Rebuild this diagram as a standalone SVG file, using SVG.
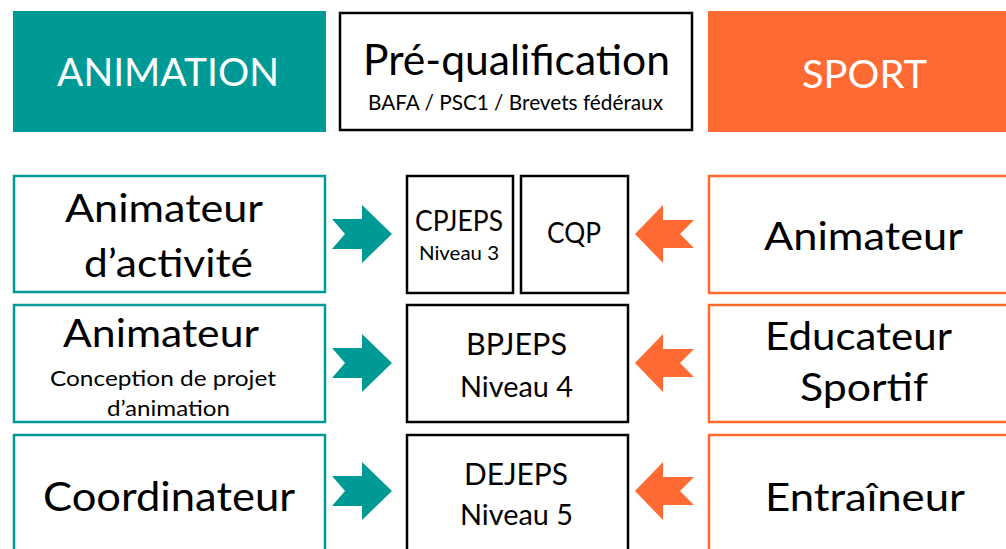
<svg xmlns="http://www.w3.org/2000/svg" xmlns:xlink="http://www.w3.org/1999/xlink" width="1006" height="549" viewBox="0 0 1006 549">
<style>
text{font-family:Lato,"Open Sans","Liberation Sans",sans-serif;fill:#000}
.w{fill:#fff}
.tb{fill:#fff;stroke:#009A96;stroke-width:2.5}
.ob{fill:#fff;stroke:#FF6A2A;stroke-width:2.5}
.kb{fill:#fff;stroke:#000;stroke-width:2.5}
.ta{fill:#009A96}
.oa{fill:#FF6A33}
</style>
<defs>
<polygon id="arrR" points="332,219 362,219 362,205 392,234 362,263 362,249 332,249 345,234"/>
<polygon id="arrL" points="635,234 663,205 663,220 694,220 680,234 694,248 663,248 663,263"/>
</defs>
<rect width="1006" height="549" fill="#fff"/>
<g id="animation">
<rect x="13" y="11" width="313" height="121" fill="#009A96"/>
<text class="w" x="57" y="86" font-size="39" textLength="222" lengthAdjust="spacingAndGlyphs">ANIMATION</text>
</g>
<g id="prequalification">
<rect class="kb" x="340" y="13" width="352" height="117"/>
<text x="363" y="75" font-size="42" textLength="307" lengthAdjust="spacingAndGlyphs">Pré-qualification</text>
<text x="368" y="110" font-size="21" textLength="295" lengthAdjust="spacingAndGlyphs">BAFA / PSC1 / Brevets fédéraux</text>
</g>
<g id="sport">
<rect x="708" y="11" width="298" height="121" fill="#FF6A33"/>
<text class="w" x="802" y="88" font-size="39" textLength="125" lengthAdjust="spacingAndGlyphs">SPORT</text>
</g>
<g id="animateur-activite">
<rect class="tb" x="14" y="176" width="311" height="116"/>
<text x="65" y="222" font-size="38" textLength="198" lengthAdjust="spacingAndGlyphs">Animateur</text>
<text x="84" y="277" font-size="38" textLength="169" lengthAdjust="spacingAndGlyphs">d’activité</text>
</g>
<g id="animateur-conception">
<rect class="tb" x="14" y="305" width="311" height="117"/>
<text x="63" y="347" font-size="38" textLength="196" lengthAdjust="spacingAndGlyphs">Animateur</text>
<text x="50" y="386" font-size="21" textLength="226" lengthAdjust="spacingAndGlyphs">Conception de projet</text>
<text x="107" y="416" font-size="21" textLength="123" lengthAdjust="spacingAndGlyphs">d’animation</text>
</g>
<g id="coordinateur">
<rect class="tb" x="14" y="435" width="311" height="120"/>
<text x="43" y="511" font-size="40" textLength="252" lengthAdjust="spacingAndGlyphs">Coordinateur</text>
</g>
<g id="cpjeps">
<rect class="kb" x="407" y="176" width="106" height="117"/>
<text x="415" y="231" font-size="29" textLength="88" lengthAdjust="spacingAndGlyphs">CPJEPS</text>
<text x="419" y="260" font-size="20" textLength="80" lengthAdjust="spacingAndGlyphs">Niveau 3</text>
</g>
<g id="cqp">
<rect class="kb" x="521" y="176" width="107" height="117"/>
<text x="547" y="243" font-size="28" textLength="54" lengthAdjust="spacingAndGlyphs">CQP</text>
</g>
<g id="bpjeps">
<rect class="kb" x="407" y="305" width="221" height="117"/>
<text x="466" y="355" font-size="31" textLength="101" lengthAdjust="spacingAndGlyphs">BPJEPS</text>
<text x="460" y="397" font-size="28" textLength="113" lengthAdjust="spacingAndGlyphs">Niveau 4</text>
</g>
<g id="dejeps">
<rect class="kb" x="407" y="435" width="221" height="120"/>
<text x="464" y="485" font-size="31" textLength="104" lengthAdjust="spacingAndGlyphs">DEJEPS</text>
<text x="460" y="525" font-size="28" textLength="113" lengthAdjust="spacingAndGlyphs">Niveau 5</text>
</g>
<g id="animateur-sport">
<rect class="ob" x="709" y="176" width="310" height="117" stroke="#FF6A13"/>
<text x="764" y="250" font-size="38" textLength="199" lengthAdjust="spacingAndGlyphs">Animateur</text>
</g>
<g id="educateur-sportif">
<rect class="ob" x="709" y="305" width="310" height="117" stroke="#FF6640"/>
<text x="765" y="350" font-size="38" textLength="187" lengthAdjust="spacingAndGlyphs">Educateur</text>
<text x="800" y="401" font-size="38" textLength="128" lengthAdjust="spacingAndGlyphs">Sportif</text>
</g>
<g id="entraineur">
<rect class="ob" x="709" y="435" width="310" height="120" stroke="#FF6640"/>
<text x="765" y="511" font-size="38" textLength="200" lengthAdjust="spacingAndGlyphs">Entraîneur</text>
</g>
<g id="connectors">
<use xlink:href="#arrR" class="ta"/>
<use xlink:href="#arrR" class="ta" transform="translate(0,129)"/>
<use xlink:href="#arrR" class="ta" transform="translate(0,257)"/>
<use xlink:href="#arrL" class="oa"/>
<use xlink:href="#arrL" class="oa" transform="translate(0,129)"/>
<use xlink:href="#arrL" class="oa" transform="translate(0,257)"/>
</g>
</svg>
